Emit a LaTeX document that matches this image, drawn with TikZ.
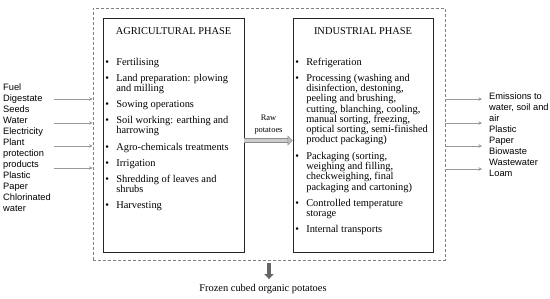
\documentclass[tikz,border=0pt]{standalone}
\usepackage{fontspec}
\setmainfont{Liberation Serif}
\newfontfamily\flowfont{Liberation Sans}
\usetikzlibrary{arrows.meta, positioning}

\begin{document}
\begin{tikzpicture}[x=1pt, y=-1pt,
    phasebox/.style={draw=black!85, line width=0.8pt, inner sep=0pt},
    flow/.style={draw=black!40, line width=0.9pt, -{Stealth[length=3.5pt, width=3.5pt]}},
    flowtext/.style={anchor=base west, inner sep=0pt, font=\flowfont\fontsize{9.3}{11}\selectfont},
    listtext/.style={anchor=base west, inner sep=0pt, font=\fontsize{10.4}{10}\selectfont}]
    \useasboundingbox (0,0) rectangle (550,298);
    % System boundary
    \node[draw=black!50, dash pattern=on 3pt off 2pt, line width=0.8pt, minimum width=352pt, minimum height=252pt, inner sep=0pt] (system) at (269,134) {};
    % Phase boxes
    \node[phasebox, minimum width=141pt, minimum height=234pt] (agri) at (173.5,135) {};
    \node[phasebox, minimum width=140pt, minimum height=234pt] (indus) at (363,135) {};
    \node[listtext, anchor=base] (agrititle) at ([yshift=-16.5pt]agri.north) {AGRICULTURAL PHASE};
    \node[listtext, anchor=base] (industitle) at ([yshift=-16.5pt]indus.north) {INDUSTRIAL PHASE};
    % Agricultural operations
    \node[listtext] (agrilist) at ([xshift=2.5pt, yshift=-47.5pt]agri.north west) {%
        \begin{tabular}[t]{@{}p{11pt}@{}l@{}}
        \textbullet & Fertilising\\[6pt]
        \textbullet & Land preparation: plowing\\
                    & and milling\\[6pt]
        \textbullet & Sowing operations\\[6pt]
        \textbullet & Soil working: earthing and\\
                    & harrowing\\[6pt]
        \textbullet & Agro-chemicals treatments\\[6pt]
        \textbullet & Irrigation\\[6pt]
        \textbullet & Shredding of leaves and\\
                    & shrubs\\[6pt]
        \textbullet & Harvesting
        \end{tabular}};
    % Industrial operations
    \node[listtext] (induslist) at ([xshift=2.5pt, yshift=-47.5pt]indus.north west) {%
        \begin{tabular}[t]{@{}p{11pt}@{}l@{}}
        \textbullet & Refrigeration\\[6pt]
        \textbullet & Processing (washing and\\
                    & disinfection, destoning,\\
                    & peeling and brushing,\\
                    & cutting, blanching, cooling,\\
                    & manual sorting, freezing,\\
                    & optical sorting, semi-finished\\
                    & product packaging)\\[6pt]
        \textbullet & Packaging (sorting,\\
                    & weighing and filling,\\
                    & checkweighing, final\\
                    & packaging and cartoning)\\[6pt]
        \textbullet & Controlled temperature\\
                    & storage\\[6pt]
        \textbullet & Internal transports
        \end{tabular}};
    % Raw potatoes between the phases
    \coordinate (rawlevel) at (0,140.5);
    \draw[draw=black!45, line width=0.6pt, double=black!20, double distance=3pt,
        -{Triangle[length=5pt, width=10pt, fill=black!25]}]
        (agri.east |- rawlevel) -- (indus.west |- rawlevel);
    \node[inner sep=0pt, anchor=base, font=\fontsize{8.4}{11.5}\selectfont] (raw) at (268.5,120.5) {%
        \begin{tabular}[t]{@{}c@{}}Raw\\potatoes\end{tabular}};
    % Inputs
    \node[flowtext] (inputs) at (3,90.3) {%
        \begin{tabular}[t]{@{}l@{}}
        Fuel\\Digestate\\Seeds\\Water\\Electricity\\Plant\\protection\\products\\Plastic\\Paper\\Chlorinated\\water
        \end{tabular}};
    \foreach \y [count=\i] in {99,123,146,168}
        \coordinate (in\i) at (54,\y);
    \foreach \i in {1,...,4}
        \draw[flow] (in\i) -- (in\i -| system.west);
    % Outputs
    \node[flowtext] (outputs) at (489,99.3) {%
        \begin{tabular}[t]{@{}l@{}}
        Emissions to\\water, soil and\\air\\Plastic\\Paper\\Biowaste\\Wastewater\\Loam
        \end{tabular}};
    \foreach \y [count=\i] in {99,123,146,169}
        \coordinate (out\i) at (482,\y);
    \foreach \i in {1,...,4}
        \draw[flow] (out\i -| system.east) -- (out\i);
    % Final product
    \node[listtext, anchor=base] (product) at (263,291.5) {Frozen cubed organic potatoes};
    \draw[draw=black!60, line width=3.5pt, -{Triangle[length=5pt, width=9pt]}]
        ([yshift=-3pt]system.south) -- ([yshift=5pt]product.north -| system.south);
\end{tikzpicture}
\end{document}
